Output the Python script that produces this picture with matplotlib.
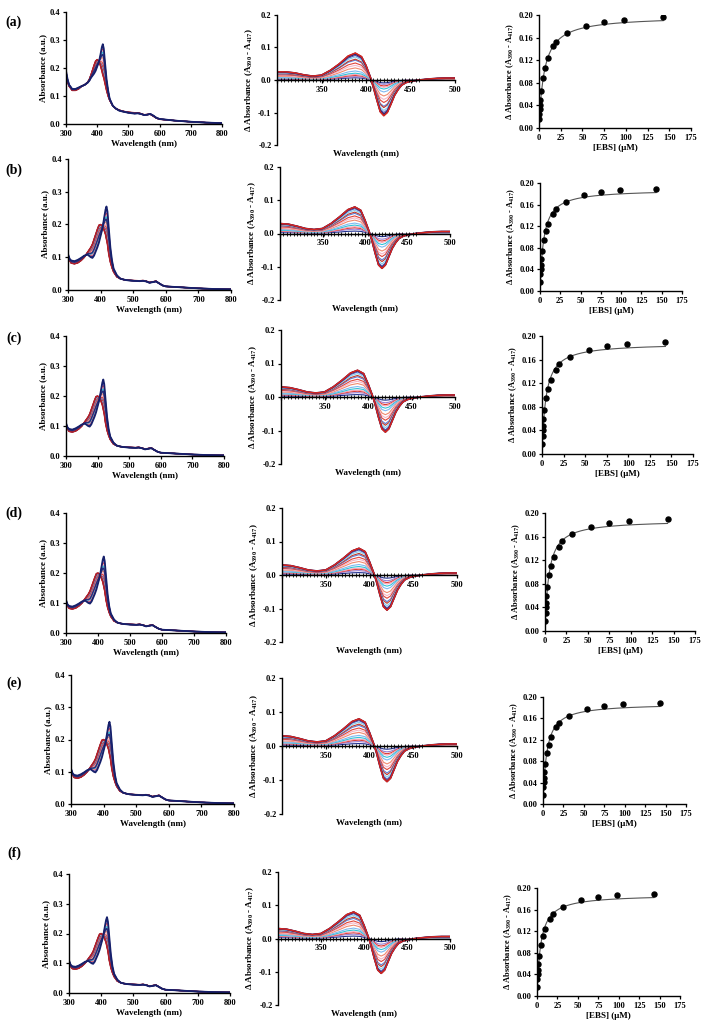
import matplotlib
matplotlib.use('Agg')
import matplotlib.pyplot as plt
import numpy as np

plt.rcParams['font.family'] = ['Liberation Serif', 'DejaVu Serif']
plt.rcParams['font.weight'] = 'bold'
plt.rcParams['axes.labelweight'] = 'bold'
plt.rcParams['axes.unicode_minus'] = False
plt.rcParams['mathtext.fontset'] = 'custom'
plt.rcParams['mathtext.rm'] = 'Liberation Serif:bold'
plt.rcParams['mathtext.it'] = 'Liberation Serif:bold'
plt.rcParams['mathtext.bf'] = 'Liberation Serif:bold'

# ---- absorbance spectra (free heme protein / EBS-saturated)
wl_abs = [300, 305, 310, 320, 330, 340, 350, 360, 370, 375, 380, 390, 395, 400, 405,
          410, 415, 418, 421, 425, 430, 435, 440, 450, 460, 470, 480, 500, 520, 530,
          540, 550, 560, 570, 580, 590, 600, 650, 700, 750, 800]
abs_free_a = [0.19, 0.16, 0.14, 0.125, 0.125, 0.13, 0.135, 0.14, 0.148, 0.155, 0.165, 0.18, 0.19, 0.205, 0.22,
              0.245, 0.275, 0.285, 0.27, 0.22, 0.16, 0.12, 0.09, 0.065, 0.055, 0.048, 0.045, 0.04, 0.037, 0.038,
              0.036, 0.032, 0.033, 0.036, 0.03, 0.022, 0.018, 0.012, 0.008, 0.005, 0.003]
abs_bound_a = [0.17, 0.15, 0.135, 0.12, 0.12, 0.125, 0.135, 0.14, 0.15, 0.16, 0.175, 0.21, 0.225, 0.23, 0.225,
               0.21, 0.19, 0.175, 0.165, 0.145, 0.12, 0.10, 0.085, 0.065, 0.055, 0.05, 0.046, 0.042, 0.04, 0.04,
               0.037, 0.033, 0.034, 0.035, 0.028, 0.021, 0.017, 0.012, 0.008, 0.005, 0.003]
abs_free_bf = [0.11, 0.095, 0.09, 0.088, 0.092, 0.098, 0.105, 0.108, 0.10, 0.098, 0.105, 0.13, 0.145, 0.165, 0.185,
               0.215, 0.245, 0.255, 0.24, 0.19, 0.13, 0.09, 0.065, 0.045, 0.035, 0.032, 0.03, 0.028, 0.027, 0.028,
               0.026, 0.022, 0.024, 0.026, 0.02, 0.014, 0.011, 0.008, 0.005, 0.003, 0.002]
abs_bound_bf = [0.10, 0.09, 0.082, 0.08, 0.083, 0.09, 0.10, 0.115, 0.13, 0.14, 0.155, 0.185, 0.198, 0.20, 0.196,
                0.185, 0.17, 0.155, 0.14, 0.11, 0.085, 0.068, 0.055, 0.04, 0.035, 0.032, 0.03, 0.029, 0.028, 0.029,
                0.027, 0.023, 0.025, 0.027, 0.02, 0.014, 0.011, 0.008, 0.005, 0.003, 0.002]

# ---- difference spectra at saturation
wl_diff = [300, 310, 320, 330, 340, 350, 360, 370, 380, 388, 395, 400, 405, 408, 412,
           416, 420, 424, 428, 432, 436, 440, 445, 450, 460, 470, 480, 490, 500]
diff_max_a = [0.025, 0.025, 0.022, 0.016, 0.012, 0.015, 0.03, 0.05, 0.074, 0.083, 0.072, 0.045, 0.008, -0.02, -0.06,
              -0.098, -0.11, -0.1, -0.075, -0.048, -0.03, -0.016, -0.008, -0.004, 0.0, 0.003, 0.005, 0.006, 0.006]
diff_max_bf = [0.03, 0.028, 0.022, 0.015, 0.012, 0.015, 0.03, 0.05, 0.072, 0.08, 0.07, 0.04, 0.005, -0.02, -0.06,
               -0.095, -0.105, -0.095, -0.07, -0.045, -0.028, -0.015, -0.008, -0.004, 0.0, 0.003, 0.005, 0.006, 0.006]

# ---- binding titration
ebs_a = [0.4, 0.5, 0.6, 0.8, 1.2, 2.5, 4.8, 7, 10, 16, 20, 32, 54, 75, 98, 143]
dA_a = [0.016, 0.024, 0.033, 0.040, 0.050, 0.066, 0.088, 0.107, 0.124, 0.145, 0.152, 0.168, 0.180, 0.187, 0.192, 0.197]
ebs_bf = [0.5, 0.6, 0.8, 1.0, 1.5, 2.2, 5, 7.5, 10, 16, 20, 32, 54, 75, 98, 143]
dA_bf = [0.017, 0.031, 0.041, 0.048, 0.060, 0.074, 0.095, 0.111, 0.125, 0.143, 0.152, 0.165, 0.177, 0.183, 0.187, 0.189]
fit_bmax = [0.198, 0.188, 0.188, 0.188, 0.188, 0.188]
fit_kd = [6.0, 4.5, 4.5, 4.5, 4.5, 4.5]

panel_labels = ['(a)', '(b)', '(c)', '(d)', '(e)', '(f)']

step_colors = ['#1f2f8f', '#9b7fd4', '#d9362b', '#f7a1b5', '#33c3d8', '#7fb8f0', '#f08a70', '#f4b6c8',
               '#e0453a', '#5a7fd8', '#c0392b', '#87ceeb', '#3050c0', '#e8655a', '#1a237e', '#d7261e']

W, H = 709, 1034
fig = plt.figure(figsize=(W / 100, H / 100), dpi=100)

# pixel boxes: x0, x1, ytop, ybottom
box_left = [(66, 222, 12, 124), (68, 231, 159, 290), (66, 224, 336, 456),
            (66, 226, 513, 633), (71, 234, 675, 804), (69, 230, 874, 993)]
box_mid = [(277, 455, 15, 145), (280, 450, 167, 300), (281, 455, 330, 464),
           (282, 457, 508, 642), (282, 457, 678, 814), (278, 450, 872, 1005)]
box_right = [(539, 691, 15, 128), (540, 682, 183, 291), (542, 693, 336, 454),
             (545, 695, 513, 631), (543, 686, 697, 804), (537, 680, 888, 996)]
label_y = [22, 170, 338, 513, 683, 853]


def make_ax(b):
    x0, x1, yt, yb = b
    return fig.add_axes([x0 / W, 1 - yb / H, (x1 - x0) / W, (yb - yt) / H])


def style(ax):
    for s in ['top', 'right']:
        ax.spines[s].set_visible(False)
    for s in ['left', 'bottom']:
        ax.spines[s].set_linewidth(1.0)
    ax.tick_params(direction='out', length=2.5, width=0.9, labelsize=6, pad=1.5)


dlabel = r'$\Delta$ Absorbance (A$_{390}$ - A$_{417}$)'

for i in range(6):
    if i == 0:
        free, bound, dmax, conc, dA = abs_free_a, abs_bound_a, diff_max_a, ebs_a, dA_a
    else:
        free, bound, dmax, conc, dA = abs_free_bf, abs_bound_bf, diff_max_bf, ebs_bf, dA_bf
    free = np.array(free)
    bound = np.array(bound)
    dmax = np.array(dmax)
    frac = np.array(dA) / dA[-1]

    # left: absorbance spectra
    ax = make_ax(box_left[i])
    style(ax)
    for k, f in enumerate(frac):
        ax.plot(wl_abs, free + f * (bound - free), color=step_colors[k], lw=0.8)
    ax.plot(wl_abs, bound, color='#b0202a', lw=1.1)
    ax.plot(wl_abs, free + frac[5] * (bound - free), color='#2a2f7a', lw=1.1)
    ax.plot(wl_abs, free, color='#16206b', lw=1.3)
    ax.set_xlim(300, 800)
    ax.set_ylim(0, 0.4)
    ax.set_xticks([300, 400, 500, 600, 700, 800])
    ax.set_yticks([0.0, 0.1, 0.2, 0.3, 0.4])
    ax.yaxis.set_major_formatter('{x:.1f}')
    ax.set_xlabel('Wavelength (nm)', fontsize=6.5, labelpad=2)
    ax.set_ylabel('Absorbance (a.u.)', fontsize=6.5, labelpad=2)

    # middle: difference spectra
    ax = make_ax(box_mid[i])
    style(ax)
    ax.spines['bottom'].set_position(('data', 0))
    for k, f in enumerate(frac):
        ax.plot(wl_diff, f * dmax, color=step_colors[k], lw=0.8)
    ax.plot(wl_diff, frac[-2] * dmax, color='#1a237e', lw=1.3)
    ax.plot(wl_diff, dmax, color='#d7261e', lw=1.1)
    ax.plot(np.arange(300, 462, 4), np.zeros(41), color='black', lw=0.8,
            marker='|', ms=2.2, mew=0.6)
    ax.set_xlim(300, 500)
    ax.set_ylim(-0.2, 0.2)
    ax.set_xticks([300, 350, 400, 450, 500])
    ax.set_xticklabels(['', '350', '400', '450', '500'])
    ax.set_yticks([-0.2, -0.1, 0.0, 0.1, 0.2])
    ax.yaxis.set_major_formatter('{x:.1f}')
    ax.set_xlabel('Wavelength (nm)', fontsize=6.5)
    ax.xaxis.set_label_coords(0.5, -0.04)
    ax.set_ylabel(dlabel, fontsize=6.5, labelpad=2)

    # right: binding curve
    ax = make_ax(box_right[i])
    style(ax)
    xf = np.linspace(conc[0], conc[-1], 300)
    ax.plot(xf, fit_bmax[i] * xf / (fit_kd[i] + xf), color='#555555', lw=0.8)
    ax.plot(conc, dA, 'o', color='black', ms=3.6)
    ax.set_xlim(0, 175)
    ax.set_ylim(0, 0.2)
    ax.set_xticks(np.arange(0, 176, 25))
    ax.set_yticks([0.0, 0.04, 0.08, 0.12, 0.16, 0.20])
    ax.yaxis.set_major_formatter('{x:.2f}')
    ax.set_xlabel('[EBS] (\u03bcM)', fontsize=6.5, labelpad=2)
    ax.set_ylabel(dlabel, fontsize=6, labelpad=2)

    fig.text(14 / W, 1 - label_y[i] / H, panel_labels[i], fontsize=10, fontweight='bold',
             ha='center', va='center')

plt.savefig('out.png', dpi=100)
